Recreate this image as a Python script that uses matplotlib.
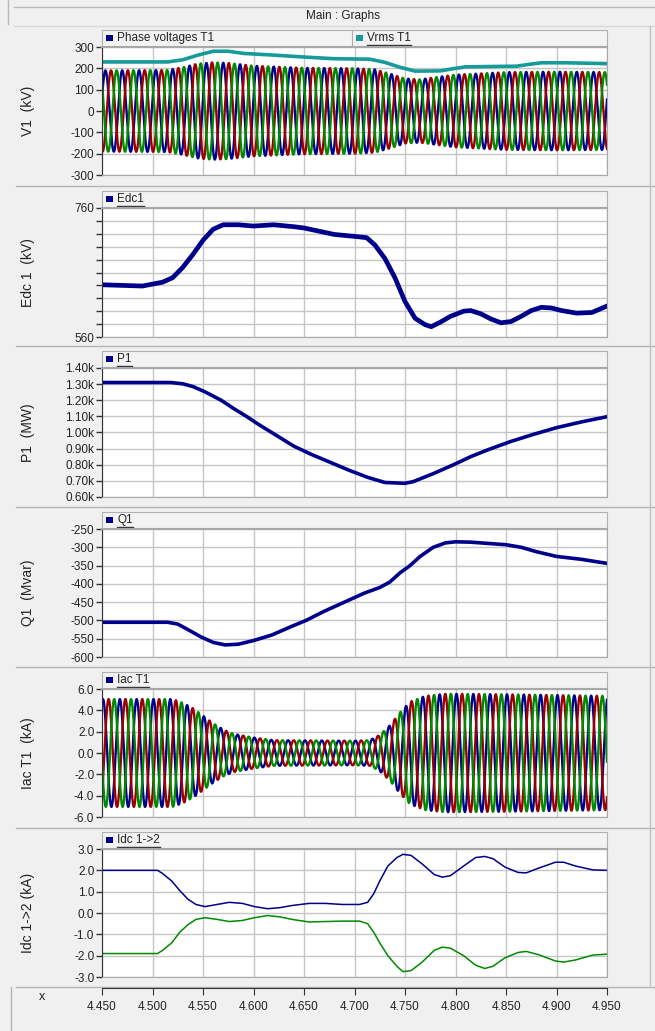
import numpy as np
import matplotlib
matplotlib.use("Agg")
import matplotlib.pyplot as plt
from matplotlib.patches import Rectangle
from matplotlib.ticker import FixedLocator, FuncFormatter

plt.rcParams["font.family"] = ["Liberation Sans", "DejaVu Sans"]
plt.rcParams["axes.unicode_minus"] = False

W, H = 655, 1031
BG = "#f0f0f0"
NAVY = "#00008b"
RED = "#9a0000"
GREEN = "#008a00"
TEAL = "#169a9a"
GRID = "#c6c6c6"
TXT = "#222222"
FREQ = 60.0

T0, T1 = 4.45, 4.95
x_ticks = [4.45, 4.50, 4.55, 4.60, 4.65, 4.70, 4.75, 4.80, 4.85, 4.90, 4.95]
x_labels = ["4.450", "4.500", "4.550", "4.600", "4.650", "4.700",
            "4.750", "4.800", "4.850", "4.900", "4.950"]

# --- phase voltages T1: peak envelope (kV) ---
v_env_t = [4.45, 4.515, 4.53, 4.545, 4.56, 4.575, 4.60, 4.65, 4.70, 4.72,
           4.735, 4.75, 4.765, 4.78, 4.80, 4.85, 4.90, 4.95]
v_env_amp = [190, 192, 205, 222, 228, 225, 212, 202, 200, 195,
             175, 152, 148, 158, 170, 182, 184, 182]

# --- Vrms T1 (kV) ---
vrms_t = [4.45, 4.515, 4.53, 4.545, 4.56, 4.575, 4.59, 4.62, 4.65, 4.68,
          4.715, 4.73, 4.745, 4.76, 4.785, 4.80, 4.81, 4.86, 4.875, 4.885,
          4.91, 4.95]
vrms_v = [230, 230, 240, 262, 280, 280, 270, 262, 253, 245,
          243, 228, 205, 187, 188, 200, 207, 210, 220, 226,
          226, 222]

# --- Edc1 (kV) ---
edc_t = [4.450, 4.470, 4.490, 4.500, 4.510, 4.520, 4.530, 4.540, 4.550, 4.560,
         4.570, 4.585, 4.600, 4.620, 4.640, 4.650, 4.665, 4.680, 4.700, 4.712,
         4.720, 4.730, 4.740, 4.750, 4.760, 4.770, 4.776, 4.785, 4.795, 4.808,
         4.815, 4.825, 4.835, 4.845, 4.855, 4.865, 4.875, 4.885, 4.895, 4.905,
         4.920, 4.935, 4.950]
edc_v = [641, 640, 639, 642, 645, 652, 668, 688, 710, 727,
         734, 734, 732, 734, 731, 729, 724, 719, 716, 714,
         703, 682, 652, 615, 589, 579, 576, 583, 592, 600,
         601, 596, 588, 582, 584, 592, 601, 606, 605, 601,
         597, 598, 608]

# --- P1 (MW) ---
p1_t = [4.45, 4.518, 4.530, 4.540, 4.552, 4.568, 4.580, 4.593, 4.605, 4.618,
        4.640, 4.657, 4.676, 4.695, 4.713, 4.730, 4.750, 4.758, 4.778, 4.798,
        4.815, 4.833, 4.855, 4.878, 4.900, 4.925, 4.950]
p1_v = [1310, 1310, 1302, 1285, 1252, 1200, 1150, 1100, 1050, 1000,
        915, 865, 815, 765, 722, 690, 685, 695, 745, 800,
        850, 895, 945, 990, 1030, 1066, 1098]

# --- Q1 (Mvar) ---
q1_t = [4.450, 4.515, 4.525, 4.535, 4.548, 4.560, 4.572, 4.585, 4.600, 4.618,
        4.638, 4.652, 4.670, 4.690, 4.710, 4.725, 4.735, 4.745, 4.755, 4.765,
        4.778, 4.790, 4.800, 4.815, 4.835, 4.850, 4.865, 4.880, 4.900, 4.925,
        4.950]
q1_v = [-505, -505, -510, -525, -545, -560, -567, -565, -555, -540,
        -516, -500, -475, -450, -425, -410, -395, -370, -350, -325,
        -300, -288, -285, -286, -290, -293, -300, -312, -325, -333,
        -344]

# --- Iac T1: peak envelope (kA) ---
i_env_t = [4.45, 4.52, 4.53, 4.54, 4.55, 4.56, 4.57, 4.58, 4.60, 4.62,
           4.70, 4.715, 4.725, 4.735, 4.745, 4.755, 4.77, 4.79, 4.85, 4.95]
i_env_amp = [5.05, 5.05, 4.7, 4.2, 3.5, 2.8, 2.2, 1.8, 1.45, 1.2,
             1.15, 1.2, 1.7, 2.6, 3.8, 4.8, 5.35, 5.55, 5.5, 5.35]

# --- Idc 1->2 (kA) ---
idc_t = [4.450, 4.505, 4.510, 4.519, 4.527, 4.535, 4.543, 4.552, 4.564, 4.576,
         4.589, 4.601, 4.614, 4.626, 4.638, 4.655, 4.671, 4.688, 4.705, 4.713,
         4.719, 4.725, 4.733, 4.742, 4.748, 4.756, 4.767, 4.779, 4.787, 4.795,
         4.808, 4.820, 4.829, 4.837, 4.849, 4.862, 4.870, 4.882, 4.899, 4.907,
         4.919, 4.936, 4.950]
idc_pos = [2.0, 2.0, 1.85, 1.5, 1.05, 0.65, 0.4, 0.3, 0.4, 0.5,
           0.45, 0.3, 0.2, 0.25, 0.35, 0.45, 0.45, 0.4, 0.4, 0.5,
           0.9, 1.5, 2.2, 2.6, 2.75, 2.7, 2.3, 1.8, 1.68, 1.75,
           2.2, 2.6, 2.65, 2.55, 2.15, 1.9, 1.88, 2.1, 2.38, 2.38,
           2.2, 2.02, 2.0]
idc_neg = [-1.9, -1.9, -1.75, -1.4, -0.9, -0.55, -0.3, -0.22, -0.3, -0.4,
           -0.35, -0.22, -0.12, -0.18, -0.3, -0.42, -0.4, -0.38, -0.38, -0.5,
           -0.9, -1.4, -2.0, -2.5, -2.75, -2.7, -2.3, -1.75, -1.6, -1.65,
           -2.0, -2.45, -2.6, -2.5, -2.1, -1.85, -1.8, -1.95, -2.25, -2.3,
           -2.2, -1.97, -1.93]


def px_axes(fig, x0, y0, x1, y1):
    return fig.add_axes([x0 / W, 1 - y1 / H, (x1 - x0) / W, (y1 - y0) / H])


def three_phase(env_t, env_amp, shift):
    t = np.linspace(T0, T1, 6001)
    amp = np.interp(t, env_t, env_amp)
    w = 2 * np.pi * FREQ
    return t, [amp * np.sin(w * t + shift + k * 2 * np.pi / 3) for k in (0, -1, 1)]


fig = plt.figure(figsize=(W / 100, H / 100), dpi=100, facecolor=BG)
deco = fig.add_axes([0, 0, 1, 1])
deco.set_xlim(0, W)
deco.set_ylim(H, 0)
deco.axis("off")
deco.set_zorder(0)

X0, X1 = 102, 607
panels = [(47, 175), (208, 337), (368, 497), (529, 657), (689, 817), (849, 977)]
seps = [186, 346, 507, 667, 828, 987]

# window chrome
deco.plot([14, W], [7, 7], color="#b8b8b8", lw=1)
deco.plot([8, 8], [0, 24], color="#b8b8b8", lw=1)
deco.plot([14, W], [26, 26], color="#d8d8d8", lw=1)
deco.text(343, 16.5, "Main : Graphs", ha="center", va="center", fontsize=8.5, color=TXT)
for s in seps:
    deco.plot([16, W], [s, s], color="#b4b4b4", lw=1)
deco.plot([650, 650], [26, 987], color="#c0c0c0", lw=1)
deco.plot([11, 11], [987, H], color="#b4b4b4", lw=1)

y_labels = ["V1  (kV)", "Edc 1  (kV)", "P1  (MW)", "Q1  (Mvar)", "Iac T1  (kA)", "Idc 1->2 (kA)"]
axes = []
for (ya, yb), lab in zip(panels, y_labels):
    deco.add_patch(Rectangle((X0, ya - 17), X1 - X0, 17, facecolor="#f3f3f3",
                             edgecolor="#b0b0b0", lw=0.8))
    ax = px_axes(fig, X0, ya, X1, yb)
    ax.set_facecolor("white")
    ax.set_xlim(T0, T1)
    ax.set_xticks(x_ticks)
    ax.tick_params(axis="x", length=0, labelbottom=False)
    ax.tick_params(axis="y", which="both", direction="out", length=4, width=1,
                   color="#333333", labelsize=8.5, labelcolor=TXT, pad=1.5)
    ax.grid(True, which="both", color=GRID, lw=1)
    ax.set_axisbelow(True)
    for side in ("top", "right", "bottom"):
        ax.spines[side].set_color("#a8a8a8")
    ax.spines["top"].set_linewidth(1.5)
    ax.spines["left"].set_color("#333333")
    fig.text(28 / W, 1 - (ya + yb) / 2 / H, lab, rotation=90, ha="center", va="center",
             fontsize=10, color=TXT)
    axes.append(ax)

# legend headers
legend_items = [
    (0, X0 + 4, "Phase voltages T1", NAVY, False),
    (0, 356, "Vrms T1", TEAL, True),
    (1, X0 + 4, "Edc1", NAVY, True),
    (2, X0 + 4, "P1", NAVY, True),
    (3, X0 + 4, "Q1", NAVY, True),
    (4, X0 + 4, "Iac T1", NAVY, True),
    (5, X0 + 4, "Idc 1->2", NAVY, True),
]
deco.plot([352, 352], [panels[0][0] - 17, panels[0][0]], color="#b0b0b0", lw=0.8)
renderer = fig.canvas.get_renderer()
for idx, x, name, col, underline in legend_items:
    yc = panels[idx][0] - 9
    deco.add_patch(Rectangle((x, yc - 3), 7, 6, facecolor=col, edgecolor="none"))
    t = deco.text(x + 11, yc, name, ha="left", va="center", fontsize=8.5, color=TXT)
    if underline:
        bb = t.get_window_extent(renderer)
        deco.plot([bb.x0, bb.x1], [H - bb.y0 + 1, H - bb.y0 + 1], color="#333333", lw=1)

# panel 1: phase voltages + Vrms
ax = axes[0]
t, phases = three_phase(v_env_t, v_env_amp, 0.3)
for ph, col in zip(phases, (NAVY, RED, GREEN)):
    ax.plot(t, ph, color=col, lw=1.7)
ax.plot(vrms_t, vrms_v, color=TEAL, lw=2.6)
ax.set_ylim(-300, 300)
ax.set_yticks([-300, -200, -100, 0, 100, 200, 300])

# panel 2: Edc1
ax = axes[1]
ax.plot(edc_t, edc_v, color=NAVY, lw=3.4)
ax.set_ylim(560, 760)
ax.set_yticks([560, 760])
ax.yaxis.set_minor_locator(FixedLocator(list(range(580, 760, 20))))

# panel 3: P1
ax = axes[2]
ax.plot(p1_t, p1_v, color=NAVY, lw=2.6)
ax.set_ylim(600, 1400)
ax.set_yticks(list(range(600, 1401, 100)))
ax.yaxis.set_major_formatter(FuncFormatter(lambda v, p: f"{v / 1000:.2f}k"))

# panel 4: Q1
ax = axes[3]
ax.plot(q1_t, q1_v, color=NAVY, lw=2.6)
ax.set_ylim(-600, -250)
ax.set_yticks(list(range(-600, -249, 50)))

# panel 5: Iac T1
ax = axes[4]
t, phases = three_phase(i_env_t, i_env_amp, 1.2)
for ph, col in zip(phases, (NAVY, RED, GREEN)):
    ax.plot(t, ph, color=col, lw=1.7)
ax.set_ylim(-6, 6)
ax.set_yticks([-6, -4, -2, 0, 2, 4, 6])
ax.yaxis.set_major_formatter(FuncFormatter(lambda v, p: f"{v:.1f}"))

# panel 6: Idc 1->2
ax = axes[5]
ax.plot(idc_t, idc_pos, color=NAVY, lw=1.1)
ax.plot(idc_t, idc_neg, color=GREEN, lw=1.1)
ax.set_ylim(-3, 3)
ax.set_yticks([-3, -2, -1, 0, 1, 2, 3])
ax.yaxis.set_major_formatter(FuncFormatter(lambda v, p: f"{v:.1f}"))

# shared x axis at bottom
xa = px_axes(fig, X0, 987, X1, 988)
xa.set_xlim(T0, T1)
xa.patch.set_visible(False)
for side in ("top", "right", "left"):
    xa.spines[side].set_visible(False)
xa.spines["bottom"].set_color("#333333")
xa.set_yticks([])
xa.set_xticks(x_ticks)
xa.set_xticklabels(x_labels)
xa.tick_params(axis="x", direction="out", length=5, color="#333333",
               labelsize=8.5, labelcolor=TXT, pad=4)
deco.text(42, 997, "x", ha="center", va="center", fontsize=9, color=TXT)

fig.savefig("out.png", dpi=100, facecolor=BG)
